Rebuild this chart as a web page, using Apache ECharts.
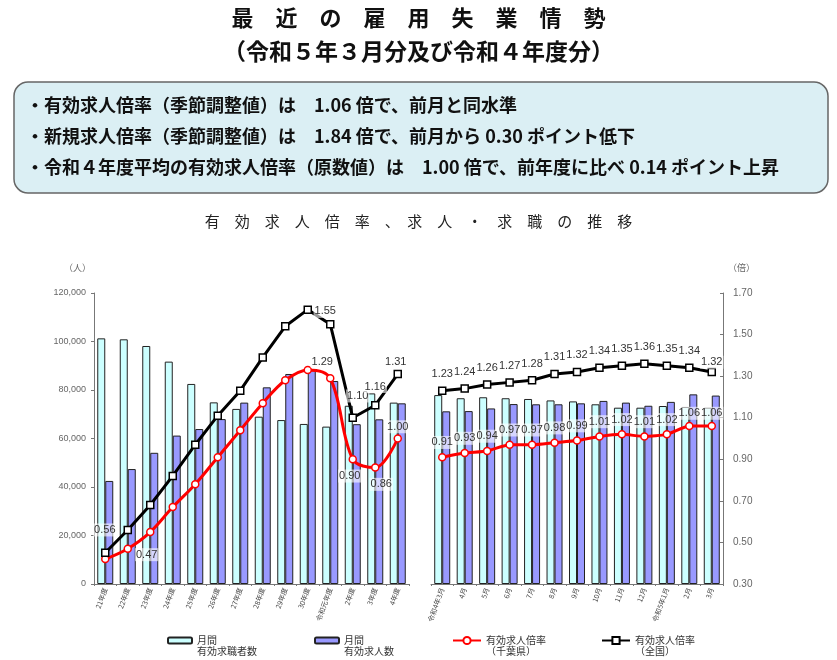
<!DOCTYPE html>
<html><head><meta charset="utf-8">
<script src="https://cdn.jsdelivr.net/npm/echarts/dist/echarts.min.js"></script>
<style>html,body{margin:0;padding:0;background:#fff}#c{width:837px;height:660px}</style>
</head><body><div id="c"></div>
<script>
// ---------- data ----------
const annualCategories = ['21年度','22年度','23年度','24年度','25年度','26年度','27年度','28年度','29年度','30年度','令和元年度','2年度','3年度','4年度'];
const monthCategories = ['令和4年3月','4月','5月','6月','7月','8月','9月','10月','11月','12月','令和5年1月','2月','3月'];

const annualJobSeekers = [101300,100900,98150,91700,82500,74900,72200,69000,67600,66000,64900,73500,78600,74800];
const annualJobOffers  = [42500,47400,54100,61200,63900,68000,74800,81100,86600,88200,83700,65900,67900,74500];
const annualRatioChiba    = [0.42,0.47,0.55,0.67,0.78,0.91,1.04,1.17,1.28,1.33,1.29,0.90,0.86,1.00];
const annualRatioNational = [0.45,0.56,0.68,0.82,0.97,1.11,1.23,1.39,1.54,1.62,1.55,1.10,1.16,1.31];

const monthJobSeekers = [77900,76600,77000,76600,76300,75700,75300,74100,72700,72700,73400,73000,72700];
const monthJobOffers  = [71200,71300,72400,74200,74100,74100,74500,75500,74800,73500,75100,78200,77700];
const monthRatioChiba    = [0.91,0.93,0.94,0.97,0.97,0.98,0.99,1.01,1.02,1.01,1.02,1.06,1.06];
const monthRatioNational = [1.23,1.24,1.26,1.27,1.28,1.31,1.32,1.34,1.35,1.36,1.35,1.34,1.32];

const peopleAxis = {min:0, max:120000, interval:20000};
const ratioAxis  = {min:0.3, max:1.7, interval:0.2};

const seriesNames = ['月間有効求職者数','月間有効求人数','有効求人倍率（千葉県）','有効求人倍率（全国）'];
const legendLabels = ['\n月間\n有効求職者数','\n月間\n有効求人数','\n有効求人倍率\n（千葉県）','\n有効求人倍率\n（全国）'];

const titleMain = '最　近　の　雇　用　失　業　情　勢';
const titleSub  = '（令和５年３月分及び令和４年度分）';
const bullets = [
  '・有効求人倍率（季節調整値）は　1.06 倍で、前月と同水準',
  '・新規求人倍率（季節調整値）は　1.84 倍で、前月から 0.30 ポイント低下',
  '・令和４年度平均の有効求人倍率（原数値）は　1.00 倍で、前年度に比べ 0.14 ポイント上昇'
];
const chartTitle = '有　効　求　人　倍　率　、　求　人　・　求　職　の　推　移';

// ---------- label placement (index -> style) ----------
const lblAnnualNational = {1:{position:'left',offset:[-2,0]},10:{position:'top',offset:[-5,3]},11:{position:'top',offset:[5,-6]},12:{position:'top',offset:[0,-3]},13:{position:'top',offset:[-2,4]}};
const lblAnnualChiba = {1:{position:'right',offset:[-2,6]},10:{position:'top',offset:[-8,-1]},11:{position:'bottom',offset:[-3,1]},12:{position:'bottom',offset:[6,1]},13:{position:'top',offset:[0,4]}};
const lblMonthNational = {};
monthRatioNational.forEach((v,i)=>{lblMonthNational[i]={position:'top',offset:[0, i===12?6:-1]};});
const lblMonthChiba = {};
monthRatioChiba.forEach((v,i)=>{lblMonthChiba[i]={position:'top',offset:[0, i>=11?3:1]};});

const numFont = 'Liberation Sans, Arial, sans-serif';
const cjk = '"Noto Sans CJK JP", sans-serif';
const labelBase = {show:true, color:'#333', fontSize:11, fontFamily:numFont, backgroundColor:'rgba(255,255,255,0.6)', padding:[1,1], formatter:p=>Number(p.value).toFixed(2)};

function withLabels(values, map){
  return values.map((v,i)=> map[i] ? {value:v, label:Object.assign({}, labelBase, map[i])} : v);
}

const lightBar = {color:'#ccffff', borderColor:'#222', borderWidth:1};
const darkBar  = {color:'#9999ff', borderColor:'#222', borderWidth:1};

function barSeries(name, data, xi, yi, style){
  return {name, type:'bar', xAxisIndex:xi, yAxisIndex:yi, data, barWidth:8, barGap:'0%', itemStyle:style, z:2};
}
function lineSeries(name, data, xi, yi, color, symbol, size, smooth){
  return {name, type:'line', xAxisIndex:xi, yAxisIndex:yi, data, smooth, symbol, symbolSize:size,
    lineStyle:{color, width:3}, itemStyle:{color:'#fff', borderColor:color, borderWidth:1.5}, z:5};
}

const xAxisCommon = {
  type:'category',
  axisLine:{lineStyle:{color:'#777', width:1}},
  axisTick:{show:true, length:2, lineStyle:{color:'#777'}},
  axisLabel:{interval:0, rotate:70, fontSize:7, color:'#444', margin:4, fontFamily:cjk}
};

const option = {
  animation:false,
  backgroundColor:'#fff',
  textStyle:{fontFamily:cjk},
  grid:[
    {left:94, right:428, top:293, bottom:76, containLabel:false, outerBoundsMode:'none'},
    {left:431, right:114, top:293, bottom:76, containLabel:false, outerBoundsMode:'none'}
  ],
  xAxis:[
    Object.assign({gridIndex:0, data:annualCategories}, xAxisCommon),
    Object.assign({gridIndex:1, data:monthCategories}, xAxisCommon)
  ],
  yAxis:[
    {gridIndex:0, type:'value', min:peopleAxis.min, max:peopleAxis.max, interval:peopleAxis.interval, position:'left',
      axisLine:{show:true, lineStyle:{color:'#777'}}, axisTick:{show:true, length:3, lineStyle:{color:'#777'}},
      splitLine:{show:false}, axisLabel:{fontSize:9, color:'#666', fontFamily:numFont, margin:8,
      formatter:v=>v.toLocaleString('en-US')}},
    {gridIndex:0, type:'value', min:ratioAxis.min, max:ratioAxis.max, interval:ratioAxis.interval, show:false},
    {gridIndex:1, type:'value', min:peopleAxis.min, max:peopleAxis.max, interval:peopleAxis.interval, show:false},
    {gridIndex:1, type:'value', min:ratioAxis.min, max:ratioAxis.max, interval:ratioAxis.interval, position:'right',
      axisLine:{show:true, lineStyle:{color:'#777'}}, axisTick:{show:true, inside:true, length:3, lineStyle:{color:'#777'}},
      splitLine:{show:false}, axisLabel:{fontSize:10, color:'#666', fontFamily:numFont, margin:10, formatter:v=>v.toFixed(2)}}
  ],
  legend:[0,1,2,3].map((k)=>({
    data:[seriesNames[k]], left:[167,314,452,601][k], top:624, padding:0,
    itemWidth:k<2?24:28, itemHeight:k<2?6:9,
    textStyle:{fontSize:10, lineHeight:11, color:'#333', fontFamily:cjk},
    formatter:()=>legendLabels[k], selectedMode:false
  })),
  graphic:[
    {type:'text', left:'center', top:7, style:{text:titleMain, font:'bold 22px "Noto Sans CJK JP"', fill:'#111'}},
    {type:'text', left:'center', top:40, style:{text:titleSub, font:'bold 23px "Noto Sans CJK JP"', fill:'#111'}},
    {type:'rect', shape:{x:14, y:82, width:814, height:111, r:14}, style:{fill:'#dbeff4', stroke:'#666', lineWidth:1.5}},
    {type:'text', x:26, y:96, style:{text:bullets[0], font:'bold 18px "Noto Sans CJK JP"', fill:'#111'}},
    {type:'text', x:26, y:127, style:{text:bullets[1], font:'bold 18px "Noto Sans CJK JP"', fill:'#111'}},
    {type:'text', x:26, y:158, style:{text:bullets[2], font:'bold 18px "Noto Sans CJK JP"', fill:'#111'}},
    {type:'text', left:'center', top:214, style:{text:chartTitle, font:'15px "Noto Sans CJK JP"', fill:'#222'}},
    {type:'text', x:64, y:263, style:{text:'（人）', font:'9px "Noto Sans CJK JP"', fill:'#666'}},
    {type:'text', x:728, y:263, style:{text:'（倍）', font:'9px "Noto Sans CJK JP"', fill:'#666'}}
  ],
  series:[
    barSeries(seriesNames[0], annualJobSeekers, 0, 0, lightBar),
    barSeries(seriesNames[1], annualJobOffers, 0, 0, darkBar),
    lineSeries(seriesNames[2], withLabels(annualRatioChiba, lblAnnualChiba), 0, 1, '#ff0000', 'circle', 7, 0.35),
    lineSeries(seriesNames[3], withLabels(annualRatioNational, lblAnnualNational), 0, 1, '#000000', 'rect', 7, false),
    barSeries(seriesNames[0], monthJobSeekers, 1, 2, lightBar),
    barSeries(seriesNames[1], monthJobOffers, 1, 2, darkBar),
    lineSeries(seriesNames[2], withLabels(monthRatioChiba, lblMonthChiba), 1, 3, '#ff0000', 'circle', 7, 0.2),
    lineSeries(seriesNames[3], withLabels(monthRatioNational, lblMonthNational), 1, 3, '#000000', 'rect', 7, false)
  ]
};
const chart = echarts.init(document.getElementById('c'), null, {renderer:'canvas'});
chart.setOption(option);
</script></body></html>
